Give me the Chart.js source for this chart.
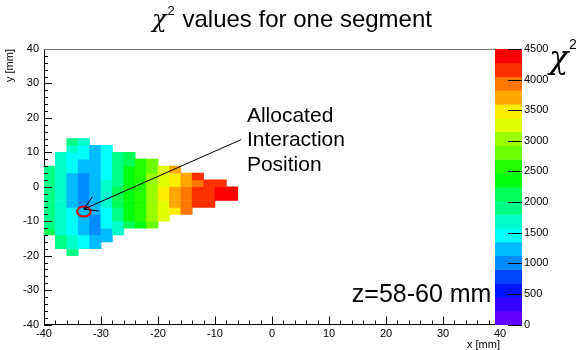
<!DOCTYPE html>
<html>
<head>
<meta charset="utf-8">
<script src="https://cdn.jsdelivr.net/npm/chart.js@4.4.1/dist/chart.umd.min.js"></script>
<style>
  html, body { margin: 0; padding: 0; background: #fff; }
</style>
</head>
<body>
<canvas id="chi2-map" width="580" height="350"></canvas>
<script>
// ── Data ──
// 2 mm x 2 mm bins. Each column lists chi2 from its lowest filled bin upwards.
const BIN = 2;
const colLeftEdges   = [-40, -38, -36, -34, -32, -30, -28, -26, -24, -22, -20, -18, -16, -14, -12, -10, -8];
const colBottomEdges = [-14, -18, -20, -18, -18, -16, -14, -12, -12, -12, -10,  -8,  -8,  -6,  -6,  -4, -4];
const chi2Columns = [
  [2150, 1950, 1950, 1900, 1900, 1900, 1900, 1900, 1950, 1950],
  [1950, 1900, 1700, 1700, 1700, 1700, 1650, 1650, 1650, 1650, 1700, 1700, 1700, 1750],
  [1950, 1700, 1650, 1500, 1450, 1450, 1400, 1300, 1300, 1250, 1300, 1300, 1450, 1450, 1500, 1650, 1900],
  [1450, 1450, 1300, 1250, 1250, 1150, 1000, 1000, 1000, 1000, 1050, 1250, 1300, 1450, 1500, 1700],
  [1250, 1200, 1050, 1000, 1000, 1150, 1250, 1300, 1250, 1250, 1250, 1200, 1200, 1250, 1250],
  [1300, 1300, 1450, 1500, 1550, 1650, 1650, 1650, 1600, 1550, 1500, 1450, 1450, 1500],
  [1700, 1750, 1900, 1950, 2050, 2100, 2100, 2000, 1950, 1900, 1850, 1850],
  [2100, 2250, 2350, 2400, 2450, 2400, 2350, 2300, 2250, 2200, 2150],
  [2450, 2500, 2600, 2650, 2680, 2650, 2600, 2600, 2550, 2500],
  [2900, 2950, 3000, 3050, 3100, 3100, 3000, 2950, 2900, 2850],
  [3250, 3300, 3350, 3450, 3450, 3300, 3250, 3200],
  [3500, 3700, 3750, 3750, 3550, 3500, 3700],
  [3900, 3950, 3950, 3950, 3750, 3700],
  [4150, 4150, 4150, 3950, 4150],
  [4150, 4150, 4200, 4150],
  [4400, 4400, 4200],
  [4350, 4400],
];

const AXIS_MIN = -40, AXIS_MAX = 40, AXIS_STEP = 10;
const Z_MAX = 4500, Z_STEP = 500, N_CONTOURS = 20;

// annotation, in mm
const markerCenter = { x: -33, y: -7.2 };
const markerRadius = { x: 1.2, y: 1.45 };
const arrowFrom = { x: -5.4, y: 13.7 };
const arrowTo   = { x: -33.0, y: -6.5 };
const noteLines = ['Allocated', 'Interaction', 'Position'];
const notePos = { x: -4.4, y: 18.9 };
const sliceLabel = 'z=58-60 mm';
const slicePos = { x: 14.0, y: -33.4 };

// ── Palette (ROOT "pretty" violet -> red, 50 hues) ──
function levelColor(i) {
  const idx = Math.floor((i + 0.99) * 50 / N_CONTOURS);
  const hue = 280 - (idx + 1) * (280 / 50);
  return `hsl(${hue}, 100%, 50%)`;
}

function cellColor(v) {
  let i = Math.floor(0.01 + v / (Z_MAX / N_CONTOURS));
  i = Math.max(0, Math.min(N_CONTOURS - 1, i));
  return levelColor(i);
}

// ── Cells as floating bars ──
const cells = [];
chi2Columns.forEach((col, i) => {
  col.forEach((v, j) => {
    const y0 = colBottomEdges[i] + BIN * j;
    cells.push({ x: colLeftEdges[i] + BIN / 2, y: [y0, y0 + BIN], v });
  });
});

const SANS = '"Liberation Sans", Arial, sans-serif';
const tickFont = { family: SANS, size: 11 };

// ── Frame, ticks, palette and labels ──
const rootStyle = {
  id: 'rootStyle',
  afterDatasetsDraw(chart) {
    const { ctx, chartArea: a, scales: { x, y, z } } = chart;
    ctx.save();

    // inward ticks
    ctx.strokeStyle = '#000';
    ctx.lineWidth = 1;
    ctx.beginPath();
    for (let v = AXIS_MIN; v <= AXIS_MAX; v += BIN) {
      const len = v % AXIS_STEP === 0 ? 8 : 4;
      const px = Math.round(x.getPixelForValue(v)) + 0.5;
      ctx.moveTo(px, a.bottom);
      ctx.lineTo(px, a.bottom - len);
      const py = Math.round(y.getPixelForValue(v)) + 0.5;
      ctx.moveTo(a.left, py);
      ctx.lineTo(a.left + len, py);
    }
    ctx.stroke();

    // top of frame
    ctx.strokeStyle = '#777';
    ctx.beginPath();
    ctx.moveTo(a.left, Math.round(a.top) + 0.5);
    ctx.lineTo(a.right, Math.round(a.top) + 0.5);
    ctx.stroke();

    // palette
    const barL = a.right - 5, barR = a.right + 22;
    const dz = Z_MAX / N_CONTOURS;
    for (let i = 0; i < N_CONTOURS; i++) {
      const top = z.getPixelForValue((i + 1) * dz);
      const bot = z.getPixelForValue(i * dz);
      ctx.fillStyle = levelColor(i);
      ctx.fillRect(barL, top, barR - barL, bot - top + 0.5);
    }
    ctx.strokeStyle = '#000';
    ctx.beginPath();
    for (let v = 0; v <= Z_MAX; v += Z_STEP) {
      const py = Math.round(z.getPixelForValue(v)) + 0.5;
      ctx.moveTo(barR - 14, py);
      ctx.lineTo(barR, py);
    }
    ctx.stroke();

    // palette title
    ctx.fillStyle = '#000';
    ctx.textBaseline = 'alphabetic';
    ctx.textAlign = 'left';
    ctx.font = 'italic 32px "DejaVu Serif", serif';
    ctx.fillText('χ', barR + 27, a.top + 19);
    ctx.font = '14px ' + SANS;
    ctx.fillText('2', barR + 47, a.top);

    // marker and arrow
    const cx = x.getPixelForValue(markerCenter.x), cy = y.getPixelForValue(markerCenter.y);
    const rx = x.getPixelForValue(markerCenter.x + markerRadius.x) - cx;
    const ry = cy - y.getPixelForValue(markerCenter.y + markerRadius.y);
    ctx.strokeStyle = '#e00000';
    ctx.lineWidth = 2;
    ctx.beginPath();
    ctx.ellipse(cx, cy, rx, ry, 0, 0, Math.PI * 2);
    ctx.stroke();

    const x0 = x.getPixelForValue(arrowFrom.x), y0 = y.getPixelForValue(arrowFrom.y);
    const x1 = x.getPixelForValue(arrowTo.x), y1 = y.getPixelForValue(arrowTo.y);
    const ang = Math.atan2(y0 - y1, x0 - x1);
    const head = 15, spread = 0.55;
    ctx.strokeStyle = '#000';
    ctx.lineWidth = 1;
    ctx.beginPath();
    ctx.moveTo(x0, y0);
    ctx.lineTo(x1, y1);
    ctx.moveTo(x1 + head * Math.cos(ang - spread), y1 + head * Math.sin(ang - spread));
    ctx.lineTo(x1, y1);
    ctx.lineTo(x1 + head * Math.cos(ang + spread), y1 + head * Math.sin(ang + spread));
    ctx.stroke();

    // notes
    ctx.fillStyle = '#000';
    ctx.font = '21px ' + SANS;
    const nx = x.getPixelForValue(notePos.x), ny = y.getPixelForValue(notePos.y);
    noteLines.forEach((t, i) => ctx.fillText(t, nx, ny + i * 24.5));

    ctx.font = '25px ' + SANS;
    ctx.fillText(sliceLabel, x.getPixelForValue(slicePos.x), y.getPixelForValue(slicePos.y));

    ctx.restore();
  },
  afterDraw(chart) {
    // title: chi^2 values for one segment
    const { ctx } = chart;
    ctx.save();
    ctx.fillStyle = '#000';
    ctx.textBaseline = 'alphabetic';
    ctx.textAlign = 'left';
    const rest = ' values for one segment';
    ctx.font = 'italic 24px "DejaVu Serif", serif';
    const wChi = ctx.measureText('χ').width;
    ctx.font = '13px ' + SANS;
    const wSup = ctx.measureText('2').width;
    ctx.font = '24px ' + SANS;
    const wRest = ctx.measureText(rest).width;
    let tx = 292 - (wChi + wSup + 2 + wRest) / 2;
    const base = 27;
    ctx.font = 'italic 24px "DejaVu Serif", serif';
    ctx.fillText('χ', tx, base);
    tx += wChi + 1;
    ctx.font = '13px ' + SANS;
    ctx.fillText('2', tx, base - 12);
    tx += wSup + 1;
    ctx.font = '24px ' + SANS;
    ctx.fillText(rest, tx, base);
    ctx.restore();
  }
};

new Chart(document.getElementById('chi2-map'), {
  type: 'bar',
  data: {
    datasets: [{
      label: 'chi2',
      data: cells,
      backgroundColor: cells.map(c => cellColor(c.v)),
      borderWidth: 0,
      grouped: false,
      barPercentage: 1,
      categoryPercentage: 1,
    }]
  },
  options: {
    responsive: false,
    animation: false,
    devicePixelRatio: 1,
    layout: { padding: { top: 49 } },
    plugins: { legend: { display: false }, tooltip: { enabled: false } },
    scales: {
      x: {
        type: 'linear', min: AXIS_MIN, max: AXIS_MAX, offset: false, z: 1,
        afterFit: s => { s.height = 25.5; },
        grid: { display: false, drawTicks: false, offset: false },
        border: { color: '#000' },
        ticks: { stepSize: AXIS_STEP, padding: 3, maxRotation: 0, color: '#000', font: tickFont },
        title: { display: true, text: 'x [mm]', align: 'end', color: '#000', font: { family: SANS, size: 11, lineHeight: 1 }, padding: 0 },
      },
      y: {
        type: 'linear', min: AXIS_MIN, max: AXIS_MAX, z: 1,
        afterFit: s => { s.width = 44; },
        grid: { display: false, drawTicks: false },
        border: { color: '#000' },
        ticks: { stepSize: AXIS_STEP, padding: 5, color: '#000', font: tickFont },
        title: { display: true, text: 'y [mm]', align: 'end', color: '#000', font: { family: SANS, size: 11, lineHeight: 1 }, padding: { top: 4, bottom: 0 } },
      },
      z: {
        type: 'linear', position: 'right', min: 0, max: Z_MAX,
        afterFit: s => { s.width = 80; },
        grid: { display: false, drawTicks: true, tickLength: 23 },
        border: { display: false },
        ticks: { stepSize: Z_STEP, padding: 1, color: '#000', font: tickFont, callback: v => String(v) },
      },
    },
  },
  plugins: [rootStyle],
});
</script>
</body>
</html>
